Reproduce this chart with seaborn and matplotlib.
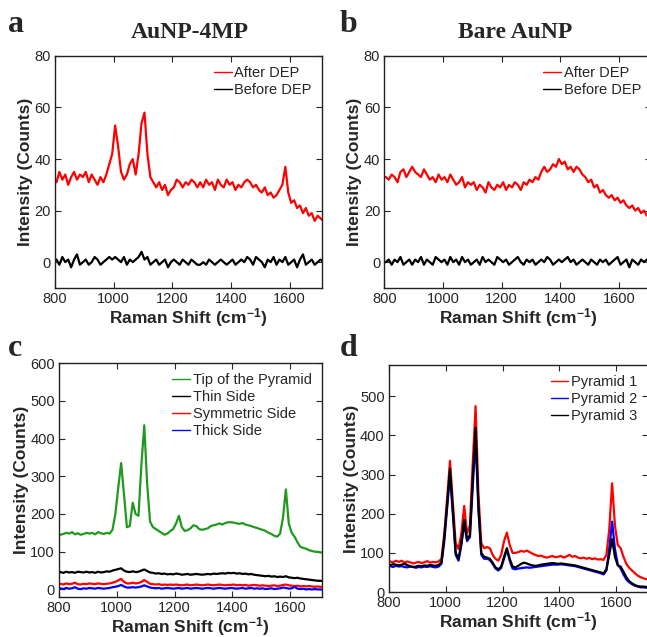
import numpy as np
import matplotlib.pyplot as plt
import seaborn as sns

sns.set_style("ticks")
plt.rcParams['font.family'] = ['Liberation Sans', 'DejaVu Sans']
plt.rcParams['mathtext.default'] = 'regular'

# Raman shift grid (cm^-1), read every 10 units
shift = np.arange(795, 1716, 10)

# panel a: AuNP-4MP
a_after = [33, 31, 35, 32, 34, 30, 33, 35, 32, 34,
           33, 35, 31, 34, 32, 30, 33, 31, 34, 38,
           42, 53, 45, 35, 32, 34, 38, 40, 34, 42,
           54, 58, 42, 33, 31, 29, 31, 28, 30, 26,
           28, 29, 32, 31, 29, 31, 30, 32, 31, 29,
           31, 29, 32, 30, 31, 28, 32, 30, 29, 32,
           30, 31, 28, 30, 29, 31, 32, 31, 29, 30,
           28, 27, 29, 26, 27, 25, 26, 28, 30, 37,
           27, 23, 24, 21, 22, 19, 21, 18, 19, 16,
           18, 17, 16]
a_before = [1, 1, -1, 2, 0, 1, -2, 1, 3, -1,
            0, 1, -1, 0, 2, 1, -1, 0, 1, 2,
            1, 2, 1, 0, 2, -1, 1, 0, 1, 2,
            4, 1, 2, -1, 0, 1, -1, 0, 1, -2,
            0, 1, 0, -1, 1, 0, -1, 1, 0, -1,
            -1, 0, -1, 1, 0, -1, 0, 1, 0, -1,
            0, 1, -1, 0, 1, 0, 2, 1, -1, 2,
            1, 0, -2, 1, 0, 2, -1, 1, 0, 2,
            -1, 0, 1, -2, 1, 3, -1, 0, 1, -1,
            0, 1, 0]

# panel b: bare AuNP
b_after = [33, 33, 32, 34, 33, 31, 35, 36, 33, 35,
           37, 35, 34, 33, 36, 34, 32, 33, 31, 34,
           32, 33, 31, 34, 32, 30, 31, 33, 29, 31,
           30, 31, 28, 30, 29, 27, 31, 29, 28, 30,
           29, 31, 28, 30, 29, 31, 30, 28, 31, 30,
           32, 31, 33, 32, 35, 37, 35, 36, 38, 37,
           40, 38, 39, 36, 37, 35, 37, 36, 34, 33,
           31, 32, 29, 30, 27, 28, 26, 25, 26, 24,
           25, 23, 24, 22, 21, 22, 20, 21, 19, 20,
           18, 19, 18]
b_before = [0, 0, 1, -1, 1, 0, 2, -1, 0, 1,
            -1, 1, 0, 2, -1, 1, 0, -1, 2, 1,
            0, 1, -1, 2, 0, 1, -1, 2, 0, 1,
            -1, 0, 1, -1, 2, 0, 1, 0, -1, 2,
            1, 0, 1, -1, 0, 1, 2, 0, -1, 1,
            0, 1, -1, 0, 1, 0, 2, 1, -1, 0,
            1, 0, 1, 2, 0, 1, -1, 0, 1, 0,
            -1, 1, 0, -1, 1, 0, 1, -1, 0, 1,
            2, -1, 0, 1, -2, 1, 0, -1, 1, 0,
            1, -1, 0]

# panel c: positions on the pyramid
c_tip = [145, 145, 147, 150, 148, 152, 146, 149, 145, 147,
         150, 148, 150, 146, 152, 149, 147, 150, 148, 158,
         200, 270, 335, 250, 165, 168, 230, 200, 195, 330,
         435, 280, 180, 165, 160, 155, 150, 145, 148, 155,
         160, 175, 195, 165, 155, 157, 162, 170, 168, 160,
         158, 160, 162, 168, 170, 172, 175, 172, 176, 178,
         178, 177, 175, 174, 176, 172, 170, 168, 165, 163,
         160, 158, 155, 150, 147, 142, 140, 148, 190, 265,
         175, 150, 140, 125, 113, 110, 108, 104, 102, 100,
         100, 98, 98]
c_thin = [45, 46, 44, 47, 45, 46, 44, 47, 46, 45,
          47, 45, 46, 44, 47, 45, 46, 48, 47, 50,
          52, 54, 56, 50, 47, 46, 48, 46, 47, 50,
          53, 49, 45, 44, 42, 43, 41, 42, 40, 41,
          40, 42, 41, 39, 40, 41, 39, 40, 41, 40,
          39, 40, 41, 40, 42, 41, 42, 43, 42, 44,
          43, 44, 42, 43, 41, 42, 40, 41, 39, 38,
          37, 36, 35, 36, 34, 35, 33, 34, 33, 35,
          32, 31, 30, 31, 29, 28, 27, 26, 25, 24,
          23, 23, 22]
c_sym = [14, 15, 13, 16, 14, 15, 18, 14, 13, 15,
         14, 16, 15, 14, 16, 15, 14, 15, 16, 18,
         20, 24, 28, 20, 16, 16, 18, 16, 17, 20,
         25, 20, 15, 14, 13, 14, 12, 13, 12, 13,
         12, 13, 12, 11, 12, 13, 11, 12, 13, 12,
         11, 12, 13, 12, 11, 12, 13, 12, 11, 12,
         12, 13, 11, 12, 11, 12, 10, 11, 12, 11,
         10, 11, 10, 9, 10, 11, 9, 10, 12, 13,
         11, 10, 9, 10, 8, 9, 8, 9, 8, 7,
         8, 7, 7]
c_thick = [2, 3, 1, 4, 2, 3, 6, 2, 1, 3,
           2, 4, 3, 2, 4, 3, 2, 3, 4, 6,
           7, 9, 12, 8, 5, 5, 6, 5, 6, 8,
           11, 8, 5, 4, 3, 4, 2, 3, 4, 3,
           2, 3, 4, 2, 3, 4, 2, 3, 4, 3,
           2, 3, 4, 3, 2, 3, 4, 3, 2, 3,
           4, 3, 2, 3, 4, 2, 3, 4, 2, 3,
           2, 3, 1, 2, 3, 1, 2, 3, 5, 4,
           2, 3, 7, 2, 1, 2, 0, 1, 0, 1,
           0, 0, -1]

# panel d: three pyramids
d_p1 = [78, 78, 76, 80, 77, 80, 75, 78, 76, 73,
        75, 77, 74, 76, 79, 75, 77, 76, 78, 85,
        150, 240, 335, 230, 125, 110, 150, 220, 150, 170,
        330, 475, 250, 125, 112, 115, 112, 95, 85, 80,
        95, 130, 152, 120, 100, 100, 102, 105, 103, 106,
        102, 98, 95, 92, 93, 90, 88, 90, 92, 89,
        90, 92, 88, 91, 95, 90, 92, 88, 86, 88,
        85, 87, 84, 86, 83, 84, 82, 95, 160, 278,
        170, 120, 112, 90, 72, 62, 55, 48, 42, 38,
        35, 33, 32]
d_p2 = [65, 66, 64, 67, 65, 66, 64, 63, 65, 64,
        62, 64, 63, 65, 64, 66, 64, 63, 65, 72,
        130, 215, 300, 200, 95, 80, 120, 175, 130, 140,
        270, 390, 210, 95, 85, 85, 82, 72, 60, 55,
        62, 85, 108, 80, 60, 58, 60, 61, 62, 63,
        62, 63, 64, 65, 66, 67, 68, 69, 70, 70,
        70, 71, 70, 69, 68, 67, 66, 64, 62, 60,
        58, 56, 54, 52, 50, 48, 45, 55, 110, 180,
        110, 70, 60, 45, 32, 25, 20, 16, 14, 12,
        12, 11, 10]
d_p3 = [70, 69, 71, 70, 68, 70, 72, 69, 66, 64,
        65, 67, 66, 68, 67, 69, 68, 67, 69, 76,
        140, 225, 315, 210, 100, 85, 125, 185, 135, 145,
        290, 420, 220, 100, 90, 88, 85, 75, 63, 58,
        65, 90, 112, 85, 65, 63, 67, 72, 75, 73,
        70, 68, 67, 68, 70, 71, 72, 73, 74, 73,
        72, 73, 72, 71, 70, 69, 68, 66, 64, 62,
        60, 58, 56, 54, 52, 50, 48, 58, 95, 135,
        90, 68, 65, 52, 38, 28, 22, 18, 15, 14,
        14, 13, 12]

green = '#1f9a1f'

fig = plt.figure(figsize=(6.47, 6.37), dpi=100)
ax_a = fig.add_axes([0.085, 0.548, 0.4127, 0.3642])
ax_b = fig.add_axes([0.594, 0.548, 0.4127, 0.3642])
ax_c = fig.add_axes([0.0912, 0.0628, 0.4065, 0.3673])
ax_d = fig.add_axes([0.601, 0.0706, 0.400, 0.3564])

def draw(ax, series):
    for vals, col, lab in series:
        sns.lineplot(x=shift, y=vals, color=col, lw=1.6, label=lab, ax=ax)

draw(ax_a, [(a_after, 'red', 'After DEP'), (a_before, 'black', 'Before DEP')])
draw(ax_b, [(b_after, 'red', 'After DEP'), (b_before, 'black', 'Before DEP')])
draw(ax_c, [(c_tip, green, 'Tip of the Pyramid'), (c_thin, 'black', 'Thin Side'),
            (c_sym, 'red', 'Symmetric Side'), (c_thick, 'blue', 'Thick Side')])
draw(ax_d, [(d_p1, 'red', 'Pyramid 1'), (d_p2, 'blue', 'Pyramid 2'),
            (d_p3, 'black', 'Pyramid 3')])

for ax in [ax_a, ax_b]:
    ax.set_ylim(-10, 80)
    ax.set_yticks([0, 20, 40, 60, 80])
ax_c.set_ylim(-20, 600)
ax_c.set_yticks(range(0, 601, 100))
ax_d.set_ylim(0, 580)
ax_d.set_yticks(range(0, 501, 100))

for ax in [ax_a, ax_b, ax_c, ax_d]:
    ax.set_xlim(800, 1710)
    ax.set_xticks(range(800, 1601, 200))
    ax.tick_params(direction='in', top=True, right=True, length=4, width=0.8,
                   labelsize=10.5, pad=3)
    for s in ax.spines.values():
        s.set_linewidth(1.0)
        s.set_color('#222222')
    ax.set_xlabel('Raman Shift (cm$^{-1}$)', fontsize=12.5, fontweight='bold', labelpad=0)
    ax.set_ylabel('Intensity (Counts)', fontsize=12.5, fontweight='bold', labelpad=1)
    leg = ax.legend(loc='upper right', frameon=False, fontsize=10.5, handlelength=1.2,
                    handletextpad=0.2, labelspacing=0.2, borderaxespad=0.3)
    for h in leg.get_lines():
        h.set_linewidth(1.0)

serif = ['Liberation Serif', 'DejaVu Serif']
fig.text(190 / 647, 1 - 33 / 637, 'AuNP-4MP', family=serif, fontsize=17,
         fontweight='bold', ha='center', va='center')
fig.text(515 / 647, 1 - 33 / 637, 'Bare AuNP', family=serif, fontsize=17,
         fontweight='bold', ha='center', va='center')
for lx, ly, lt in [(8, 25, 'a'), (340, 25, 'b'), (8, 348, 'c'), (340, 348, 'd')]:
    fig.text(lx / 647, 1 - ly / 637, lt, family=serif, fontsize=23,
             fontweight='bold', ha='left', va='center')

fig.savefig('out.png', dpi=100)
